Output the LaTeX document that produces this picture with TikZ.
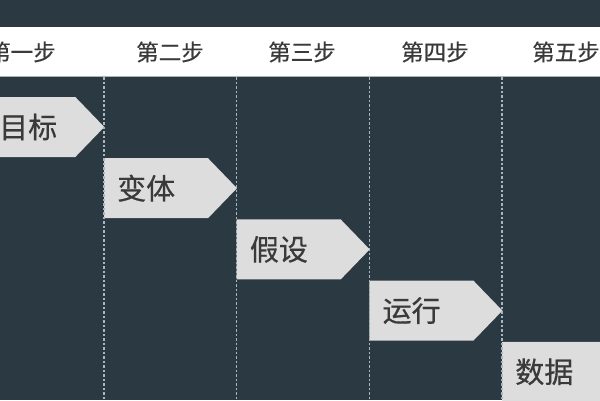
\documentclass[tikz,border=0pt]{standalone}
\usepackage{fontspec}
\setmainfont[FakeBold=0.5]{Noto Sans CJK SC}
\usetikzlibrary{positioning}

\definecolor{slate}{HTML}{2B3942}
\definecolor{chevgray}{HTML}{DDDDDD}
\definecolor{inkgray}{HTML}{3A3A3A}
\definecolor{divgray}{HTML}{A9B6BE}

\tikzset{
  chevron/.style={fill=chevgray},
  steplabel/.style={anchor=west, inner sep=0pt, text=inkgray, font=\fontsize{29}{29}\selectfont},
  headlabel/.style={inner sep=0pt, text=inkgray, font=\fontsize{22.5}{22.5}\selectfont},
  divider/.style={divgray, line width=1.5pt, dash pattern=on 2.5pt off 2pt}
}

\begin{document}
\begin{tikzpicture}[x=1pt,y=-1pt]
    % Background
    \fill[slate] (0,0) rectangle (600,400);
    \useasboundingbox (0,0) rectangle (600,400);

    % Header band
    \fill[white] (0,27) rectangle (600,76);
    \draw[gray!60, line width=1pt] (0,76.5) -- (600,76.5);
    \node[headlabel] (h1) at (22,52) {第一步};
    \node[headlabel] (h2) at (170,52) {第二步};
    \node[headlabel] (h3) at (302,52) {第三步};
    \node[headlabel] (h4) at (435,52) {第四步};
    \node[headlabel] (h5) at (566,52) {第五步};

    % Step chevrons
    \foreach \i/\txt in {1/变体, 2/假设, 3/运行, 4/数据} {
        \pgfmathsetmacro{\xl}{-28.7+132.7*\i}
        \pgfmathsetmacro{\yt}{97+61.2*\i}
        \fill[chevron] (\xl,\yt) -- ++(104,0) -- ++(29,30) -- ++(-29,30) -- ++(-104,0) -- cycle;
        \node[steplabel] (s\i) at (\xl+13,\yt+30) {\txt};
    }
    % first one runs off the left edge
    \fill[chevron] (-28.7,97) -- ++(104,0) -- ++(29,30) -- ++(-29,30) -- ++(-104,0) -- cycle;
    \node[steplabel] (s0) at (-1,127) {目标};

    % Column dividers
    \foreach \x in {104, 236.7, 369.4, 502.1}
        \draw[divider] (\x,77) -- (\x,400);

\end{tikzpicture}
\end{document}
